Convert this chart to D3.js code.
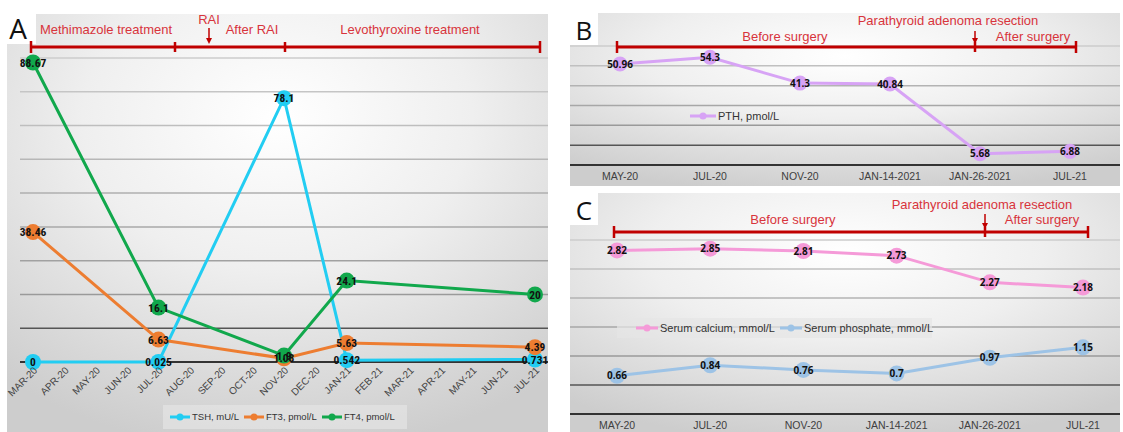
<!DOCTYPE html>
<html>
  <head>
    <meta charset="utf-8">
    <title>Thyroid and parathyroid panels</title>
    <style>
      body { margin: 0; padding: 0; background: #fff; }
      svg { display: block; font-family: 'Liberation Sans', Arial, sans-serif; }
    </style>
  </head>
  <body>
    <div id="chart"></div>
    <script src="https://cdnjs.cloudflare.com/ajax/libs/d3/7.8.5/d3.min.js"></script>
    <script>
      // Panel A data
      const monthsA = ["MAR-20","APR-20","MAY-20","JUN-20","JUL-20","AUG-20","SEP-20","OCT-20",
                       "NOV-20","DEC-20","JAN-21","FEB-21","MAR-21","APR-21","MAY-21","JUN-21","JUL-21"];
      const visitsA = ["MAR-20","JUL-20","NOV-20","JAN-21","JUL-21"];
      const tsh = [0, 0.025, 78.1, 0.542, 0.731];
      const ft3 = [38.46, 6.63, 1.08, 5.63, 4.39];
      const ft4 = [88.67, 16.1, 1.9, 24.1, 20];
      const ticksA = [0, 10, 20, 30, 40, 50, 60, 70, 80, 90];

      // Panel B / C data
      const visitsBC = ["MAY-20","JUL-20","NOV-20","JAN-14-2021","JAN-26-2021","JUL-21"];
      const pth = [50.96, 54.3, 41.3, 40.84, 5.68, 6.88];
      const ticksB = [0, 10, 20, 30, 40, 50, 60];
      const calcium = [2.82, 2.85, 2.81, 2.73, 2.27, 2.18];
      const phosphate = [0.66, 0.84, 0.76, 0.7, 0.97, 1.15];
      const ticksC = [0, 0.5, 1, 1.5, 2, 2.5, 3];

      const W = 1123, H = 432;
      const red = '#c00000', redText = '#d8343c';
      const svg = d3.select('#chart').append('svg').attr('width', W).attr('height', H);

      const defs = svg.append('defs');
      const grad = defs.append('radialGradient').attr('id', 'bg')
        .attr('cx', '50%').attr('cy', '25%').attr('r', '80%');
      grad.append('stop').attr('offset', '0%').attr('stop-color', '#ffffff');
      grad.append('stop').attr('offset', '45%').attr('stop-color', '#efefef');
      grad.append('stop').attr('offset', '100%').attr('stop-color', '#cdcdcd');

      // background rect + white corner box holding the panel letter
      function panel(x0, y0, x1, y1, letter, box, fs) {
        svg.append('rect').attr('x', x0).attr('y', y0).attr('width', x1 - x0).attr('height', y1 - y0)
          .attr('fill', 'url(#bg)');
        svg.append('rect').attr('x', box[0]).attr('y', box[1]).attr('width', box[2] - box[0]).attr('height', box[3] - box[1])
          .attr('fill', '#fff');
        svg.append('text').attr('x', box[0] + 2 + (box[2] - box[0] - 4) / 2).attr('y', box[3] - 5).text(letter)
          .attr('text-anchor', 'middle')
          .attr('font-size', fs).attr('font-family', "'Open Sans', sans-serif").attr('fill', '#111');
      }

      function grid(y, ticks, x0, x1) {
        const n = ticks.length;
        const col = d3.scaleLinear().domain([n - 1, 2, 1, 0]).range(['#cccccc', '#9a9a9a', '#555555', '#333333']);
        svg.append('g').selectAll('line').data(ticks).join('line')
          .attr('x1', x0).attr('x2', x1)
          .attr('y1', d => y(d)).attr('y2', d => y(d))
          .attr('stroke', (d, i) => col(i)).attr('stroke-width', (d, i) => i === 0 ? 2 : 1.5);
      }

      function series(x, y, cats, vals, color, r, lw) {
        const pts = cats.map((c, i) => ({c, v: vals[i]}));
        svg.append('path').datum(pts)
          .attr('d', d3.line().x(d => x(d.c)).y(d => y(d.v)))
          .attr('fill', 'none').attr('stroke', color).attr('stroke-width', lw);
        svg.append('g').selectAll('circle').data(pts).join('circle')
          .attr('cx', d => x(d.c)).attr('cy', d => y(d.v)).attr('r', r).attr('fill', color);
        return pts;
      }

      function labels(x, y, pts, fontSize, fontFamily) {
        svg.append('g').selectAll('text').data(pts).join('text')
          .attr('x', d => x(d.c)).attr('y', d => y(d.v) + fontSize * 0.36)
          .attr('text-anchor', 'middle').attr('font-size', fontSize)
          .attr('font-family', fontFamily).attr('font-weight', 'bold').attr('fill', '#111')
          .text(d => d.v);
      }

      function bracket(y, xs, arrowX, arrowTop) {
        const g = svg.append('g').attr('stroke', red);
        g.append('line').attr('x1', xs[0]).attr('x2', xs[xs.length - 1]).attr('y1', y).attr('y2', y)
          .attr('stroke-width', 3);
        xs.forEach((xx, i) => {
          const end = i === 0 || i === xs.length - 1;
          g.append('line').attr('x1', xx).attr('x2', xx).attr('y1', y - (end ? 6 : 5)).attr('y2', y + (end ? 6 : 5))
            .attr('stroke-width', 2.5);
        });
        g.append('line').attr('x1', arrowX).attr('x2', arrowX).attr('y1', arrowTop).attr('y2', y - 7)
          .attr('stroke-width', 1.5);
        svg.append('path')
          .attr('d', `M${arrowX - 3},${y - 9} L${arrowX + 3},${y - 9} L${arrowX},${y - 3} Z`)
          .attr('fill', red);
      }

      function note(x, y, t, fs) {
        svg.append('text').attr('x', x).attr('y', y).attr('text-anchor', 'middle')
          .attr('font-size', fs || 13).attr('fill', redText).text(t);
      }

      function legend(items, y, fs) {
        items.forEach(([t, c, lx, lw]) => {
          svg.append('line').attr('x1', lx).attr('x2', lx + lw).attr('y1', y).attr('y2', y)
            .attr('stroke', c).attr('stroke-width', 3);
          svg.append('circle').attr('cx', lx + lw / 2).attr('cy', y).attr('r', 3.5).attr('fill', c);
          svg.append('text').attr('x', lx + lw + 2).attr('y', y + fs * 0.36).attr('font-size', fs)
            .attr('fill', '#333').text(t);
        });
      }

      // ---------------- Panel A ----------------
      panel(7, 14, 548, 432, 'A', [0, 0, 36, 44], 28);
      const xA = d3.scalePoint().domain(monthsA).range([33, 535]);
      const yA = d3.scaleLinear().domain([0, 90]).range([362, 58]);
      grid(yA, ticksA, 20, 548);

      const labelFont = "'Liberation Sans Narrow', 'Roboto Condensed', Arial, sans-serif";
      const pTsh = series(xA, yA, visitsA, tsh, '#22cdf2', 8, 3);
      const pFt3 = series(xA, yA, visitsA, ft3, '#ed7d31', 8, 3);
      const pFt4 = series(xA, yA, visitsA, ft4, '#11a84c', 8, 3);
      labels(xA, yA, pTsh, 11.5, labelFont);
      labels(xA, yA, pFt3, 11.5, labelFont);
      labels(xA, yA, pFt4, 11.5, labelFont);

      svg.append('g').selectAll('text').data(monthsA).join('text')
        .attr('transform', d => `translate(${xA(d) + 5},${371}) rotate(-45)`)
        .attr('text-anchor', 'end').attr('font-size', 10).attr('fill', '#444').text(d => d);

      bracket(47, [31, 175, 285, 540], 209, 28);
      note(106, 34, 'Methimazole treatment');
      note(209, 24, 'RAI');
      note(252, 34, 'After RAI');
      note(410, 34, 'Levothyroxine treatment');

      // legend A
      svg.append('rect').attr('x', 163).attr('y', 405).attr('width', 244).attr('height', 24)
        .attr('fill', '#e4e4e4').attr('opacity', 0.7);
      legend([['TSH, mU/L', '#22cdf2', 170, 20], ['FT3, pmol/L', '#ed7d31', 244, 20],
              ['FT4, pmol/L', '#11a84c', 322, 20]], 417, 9.5);

      // ---------------- Panel B ----------------
      panel(570, 13, 1120, 186, 'B', [570, 13, 598, 45], 26);
      const xB = d3.scalePoint().domain(visitsBC).range([620, 1070]);
      const yB = d3.scaleLinear().domain([0, 60]).range([165, 46]);
      grid(yB, ticksB, 570, 1120);
      const bcFont = "'Open Sans', 'Noto Sans', sans-serif";
      const pPth = series(xB, yB, visitsBC, pth, '#d7a3f5', 7.5, 3);
      labels(xB, yB, pPth, 10, bcFont);
      svg.append('g').selectAll('text').data(visitsBC).join('text')
        .attr('x', d => xB(d)).attr('y', 180).attr('text-anchor', 'middle')
        .attr('font-size', 10.5).attr('fill', '#404040').text(d => d);
      bracket(47, [617, 975, 1076], 975, 31);
      note(948, 25, 'Parathyroid adenoma resection');
      note(785, 41, 'Before surgery');
      note(1033, 41, 'After surgery');
      legend([['PTH, pmol/L', '#d7a3f5', 690, 26]], 116, 11);

      // ---------------- Panel C ----------------
      panel(570, 193, 1120, 432, 'C', [570, 193, 598, 225], 26);
      const xC = d3.scalePoint().domain(visitsBC).range([617, 1083]);
      const yC = d3.scaleLinear().domain([0, 3]).range([414, 240]);
      grid(yC, ticksC, 570, 1120);
      const pCa = series(xC, yC, visitsBC, calcium, '#f59ad8', 8, 3);
      const pPh = series(xC, yC, visitsBC, phosphate, '#9dc3e6', 8, 3);
      labels(xC, yC, pCa, 10, bcFont);
      labels(xC, yC, pPh, 10, bcFont);
      svg.append('g').selectAll('text').data(visitsBC).join('text')
        .attr('x', d => xC(d)).attr('y', 429).attr('text-anchor', 'middle')
        .attr('font-size', 10.5).attr('fill', '#404040').text(d => d);
      bracket(232, [614, 985, 1088], 985, 214);
      note(982, 209, 'Parathyroid adenoma resection');
      note(793, 224, 'Before surgery');
      note(1042, 224, 'After surgery');
      svg.append('rect').attr('x', 617).attr('y', 318).attr('width', 315).attr('height', 20)
        .attr('fill', '#e6e6e6').attr('opacity', 0.7);
      legend([['Serum calcium, mmol/L', '#f59ad8', 636, 22], ['Serum phosphate, mmol/L', '#9dc3e6', 780, 22]], 328, 11);
    </script>
  </body>
</html>
